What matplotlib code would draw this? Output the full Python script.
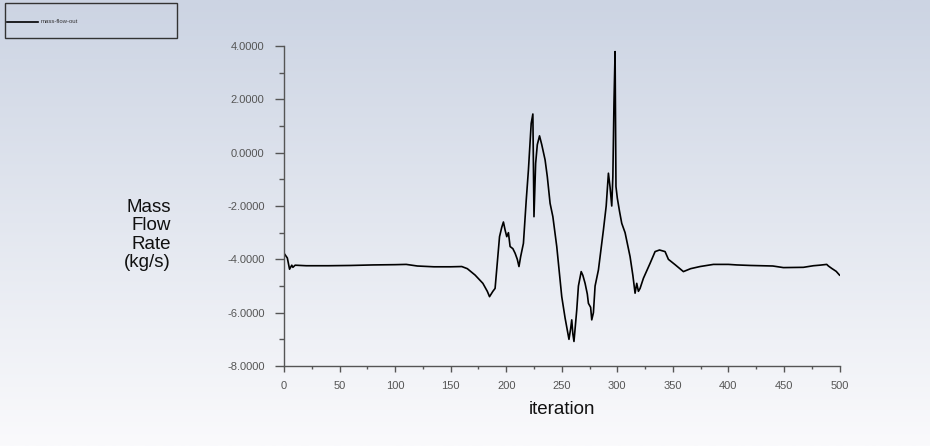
import matplotlib
matplotlib.use('Agg')
import matplotlib.pyplot as plt
import numpy as np
from matplotlib.patches import Rectangle
from matplotlib.lines import Line2D
from matplotlib.ticker import MultipleLocator, FormatStrFormatter

plt.rcParams['font.family'] = ['Liberation Sans', 'DejaVu Sans']

seriesName = 'mass-flow-out'

# values
iteration = [0, 3, 5, 7, 8, 10, 20, 40, 60, 80, 100, 110, 120, 135, 150, 160, 165,
             172, 179, 183, 185, 188, 190, 194, 196, 197.5, 199, 200.5, 202, 203.5,
             206, 208, 210, 211.5, 213, 215.5, 218, 220, 222.5, 224, 225, 226.5,
             228, 230, 232, 235, 237, 239.5, 242, 245.5, 250, 253, 256.5, 258, 259,
             260, 261, 263.5, 265, 267.5, 269, 271, 273, 274, 276, 277, 278.5, 280,
             283, 287.5, 290, 292, 293.5, 295, 296, 297, 298, 298.8, 300, 302, 304,
             307, 311.5, 314, 316, 317.5, 319, 320.5, 323.5, 329.5, 334, 338, 343,
             346, 352, 359.5, 366, 374.5, 386.5, 400, 407.5, 420, 440, 449.5, 467.5,
             476.5, 482, 488.5, 490, 493, 497, 500]
massFlow = [-3.77, -3.95, -4.37, -4.22, -4.30, -4.22, -4.24, -4.24, -4.23, -4.21, -4.20,
            -4.19, -4.25, -4.28, -4.28, -4.27, -4.35, -4.59, -4.9, -5.2, -5.4, -5.2,
            -5.09, -3.15, -2.8, -2.6, -2.9, -3.15, -3.0, -3.52, -3.6, -3.77, -4.0,
            -4.27, -3.9, -3.4, -1.8, -0.65, 1.1, 1.45, -2.4, -0.4, 0.3, 0.63, 0.3,
            -0.27, -0.9, -1.9, -2.4, -3.52, -5.4, -6.2, -7.0, -6.6, -6.27, -6.8,
            -7.08, -5.9, -5.0, -4.46, -4.6, -4.9, -5.3, -5.65, -5.8, -6.27, -6.0,
            -5.0, -4.4, -2.9, -2.0, -0.77, -1.3, -2.0, -0.9, 1.85, 3.79, -1.27, -1.7,
            -2.2, -2.65, -3.0, -3.9, -4.6, -5.27, -4.9, -5.2, -5.09, -4.71, -4.15,
            -3.71, -3.65, -3.71, -4.0, -4.2, -4.46, -4.35, -4.27, -4.19, -4.19, -4.21,
            -4.23, -4.25, -4.31, -4.30, -4.24, -4.22, -4.19, -4.25, -4.34, -4.45, -4.59]

W, H = 930, 446
fig = plt.figure(figsize=(W / 100, H / 100), dpi=100)

# background gradient, light blue-grey at top to near white at bottom
bg = fig.add_axes([0, 0, 1, 1], zorder=-10)
top = np.array([204, 212, 227]) / 255
bot = np.array([250, 250, 252]) / 255
t = np.linspace(0, 1, 256)[:, None]
grad = top[None, :] * (1 - t) + bot[None, :] * t
bg.imshow(grad[:, None, :], aspect='auto', extent=[0, 1, 0, 1])
bg.axis('off')

ax = fig.add_axes([284 / W, 1 - 366 / H, (839.5 - 284) / W, (366 - 46) / H])
ax.patch.set_alpha(0)
ax.plot(iteration, massFlow, color='black', lw=1.2)

ax.set_xlim(0, 500)
ax.set_ylim(-8, 4)
ax.xaxis.set_major_locator(MultipleLocator(50))
ax.xaxis.set_minor_locator(MultipleLocator(25))
ax.yaxis.set_major_locator(MultipleLocator(2))
ax.yaxis.set_minor_locator(MultipleLocator(1))
ax.yaxis.set_major_formatter(FormatStrFormatter('%.4f'))

for s in ['top', 'right']:
    ax.spines[s].set_visible(False)
for s in ['left', 'bottom']:
    ax.spines[s].set_color('#555555')
    ax.spines[s].set_linewidth(1.0)

ax.tick_params(axis='y', which='major', length=6.5, width=1, color='#555555',
               pad=7.5, labelsize=8, labelcolor='#555555')
ax.tick_params(axis='y', which='minor', length=3.5, width=1, color='#555555')
ax.tick_params(axis='x', which='major', length=4, width=1, color='#555555',
               pad=7, labelsize=8, labelcolor='#555555')
ax.tick_params(axis='x', which='minor', length=2.5, width=1, color='#555555')

fig.text(171 / W, 1 - 235 / H, 'Mass\nFlow\nRate\n(kg/s)', ha='right', va='center',
         multialignment='right', fontsize=13.5, linespacing=1.12, color='#111111')
fig.text(561.5 / W, 1 - 410 / H, 'iteration', ha='center', va='center',
         fontsize=13.5, color='#111111')

# legend box in the top-left corner
fig.patches.append(Rectangle((5 / W, 1 - 38 / H), 172 / W, 35 / H, transform=fig.transFigure,
                             fill=False, edgecolor='#333333', lw=1.0))
fig.lines.append(Line2D([7 / W, 38 / W], [1 - 21.7 / H] * 2, transform=fig.transFigure,
                        color='black', lw=1.2))
fig.text(41 / W, 1 - 21.7 / H, seriesName, ha='left', va='center', fontsize=4.3,
         color='#333333')

fig.savefig('out.png', dpi=100)
